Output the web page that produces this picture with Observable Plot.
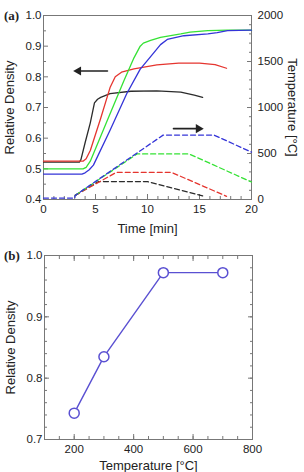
<!DOCTYPE html>
<html>
<head>
<meta charset="utf-8">
<script src="https://cdn.jsdelivr.net/npm/d3@7"></script>
<script src="https://cdn.jsdelivr.net/npm/@observablehq/plot@0.6"></script>
<style>
  html, body { margin: 0; padding: 0; background: #fff; }
  #fig { position: relative; width: 304px; height: 472px; font-family: "Liberation Sans", Arial, sans-serif; }
  #fig svg { position: absolute; left: 0; overflow: visible; }
  .tag { position: absolute; font: bold 13px "Liberation Serif", "Times New Roman", serif; color: #222; line-height: 1; }
</style>
</head>
<body>
<div id="fig">
  <div class="tag" style="left:4px;top:9px">(a)</div>
  <div class="tag" style="left:4px;top:249px">(b)</div>
</div>
<script>
// ---- (a) relative density vs time, [time min, relative density]
const densityBlack = [[0,0.522],[3.45,0.522],[3.6,0.53],[4.0,0.585],[4.5,0.65],[4.9,0.715],[5.2,0.727],[5.5,0.733],[6.4,0.745],[8.4,0.753],[10.9,0.754],[13.2,0.750],[14.5,0.740],[15.3,0.733]];
const densityRed   = [[0,0.525],[3.8,0.525],[4.1,0.533],[4.5,0.56],[5.5,0.665],[6.4,0.765],[6.9,0.80],[7.5,0.815],[8.7,0.826],[10.9,0.839],[13,0.845],[15,0.845],[16.5,0.84],[17.6,0.828]];
const densityGreen = [[0,0.50],[3.8,0.50],[4.1,0.505],[4.5,0.525],[6.1,0.655],[7.7,0.785],[8.7,0.862],[9.3,0.900],[9.6,0.910],[10.3,0.919],[11.25,0.929],[13.2,0.940],[14.1,0.946],[15.8,0.951],[17.7,0.952],[20,0.952]];
const densityBlue  = [[0,0.483],[3.7,0.483],[4.0,0.487],[4.4,0.497],[4.8,0.512],[6.4,0.626],[8.0,0.745],[9.3,0.825],[10.3,0.866],[11.25,0.905],[11.9,0.922],[13.5,0.934],[15.8,0.940],[16.7,0.944],[17.7,0.951],[20,0.952]];

// ---- (a) temperature programmes, [time min, temperature °C]
const tempBlack = [[3.05,45],[5.3,195],[10,195],[15.3,40]];
const tempRed   = [[3.05,45],[7,295],[12.3,295],[17.6,35]];
const tempGreen = [[3.05,45],[9,495],[14,495],[20,190]];
const tempBlue  = [[0,15],[3,15],[3.05,45],[11.5,700],[16.4,700],[20,515]];

// ---- (b) final relative density vs holding temperature
const holdTemp = [200, 300, 500, 700];
const finalDensity = [0.743, 0.835, 0.972, 0.972];

// ---- axis ticks
const densTicksA = [0.4, 0.5, 0.6, 0.7, 0.8, 0.9, 1.0];
const densMinorA = [0.45, 0.55, 0.65, 0.75, 0.85, 0.95];
const timeTicks = [0, 5, 10, 15, 20];
const timeMinor = d3.range(1, 20);
const tempTicks = [0, 500, 1000, 1500, 2000];
const tempMinor = d3.range(100, 2000, 100);
const densTicksB = [0.7, 0.8, 0.9, 1.0];
const densMinorB = d3.range(0.72, 1.0, 0.02);
const holdTicks = [200, 400, 600, 800];
const holdMinor = d3.range(150, 800, 50);

// ---- direction arrows pointing to each curve family's axis
const arrowDensity = {from: [6.15, 0.819], tip: [2.86, 0.819]};
const arrowTemp = {from: [12.5, 770], tip: [15.4, 770]};

const colors = {black: "#2b2b2b", red: "#e5352f", green: "#35e235", blue: "#3434d8"};
const purple = "#5a50d2";
const tickStroke = "#777";
const textFill = "#222";
const fmt1 = d3.format(".1f");
const fmtInt = d3.format("d");
const none = () => "";

const fig = document.getElementById("fig");
const W = 304, H = 236;
const baseStyle = {fontFamily: '"Liberation Sans", Arial, sans-serif', fontSize: "11.5px", background: "transparent", overflow: "visible"};
const frameA = {width: W, height: H, marginLeft: 43, marginRight: 53, marginTop: 15, marginBottom: 37, style: baseStyle};

const toRows = pts => pts.map(([x, y]) => ({x, y}));
const headOffset = 0.5; // triangle centroid sits behind the tip

function arrowMarks(a, dir) {
  const back = [a.tip[0] - dir * headOffset, a.tip[1]];
  return [
    Plot.line([a.from, back], {x: d => d[0], y: d => d[1], stroke: "#222", strokeWidth: 1.6}),
    Plot.dot([back], {x: d => d[0], y: d => d[1], symbol: "triangle", rotate: dir * 90, r: 3.4, fill: "#222", stroke: "none"})
  ];
}

// density panel (left axis)
const plotA = Plot.plot({
  ...frameA,
  x: {domain: [0, 20]},
  y: {domain: [0.4, 1.0]},
  marks: [
    Plot.frame({stroke: tickStroke}),
    Plot.axisY(densMinorA, {anchor: "left", tickSize: -3, tickFormat: none, label: null, stroke: tickStroke}),
    Plot.axisY(densTicksA, {anchor: "left", tickSize: -5, tickPadding: 7, tickFormat: fmt1, stroke: tickStroke, fill: textFill,
      label: "Relative Density", labelAnchor: "center", labelArrow: "none", labelOffset: 39}),
    Plot.axisX(timeMinor, {anchor: "bottom", tickSize: -3, tickFormat: none, label: null, stroke: tickStroke}),
    Plot.axisX(timeTicks, {anchor: "bottom", tickSize: -5, tickPadding: 10, stroke: tickStroke, fill: textFill,
      label: "Time [min]", labelAnchor: "center", labelArrow: "none", labelOffset: 33}),
    Plot.line(toRows(densityBlack), {x: "x", y: "y", stroke: colors.black, strokeWidth: 1.3}),
    Plot.line(toRows(densityRed), {x: "x", y: "y", stroke: colors.red, strokeWidth: 1.3}),
    Plot.line(toRows(densityGreen), {x: "x", y: "y", stroke: colors.green, strokeWidth: 1.3}),
    Plot.line(toRows(densityBlue), {x: "x", y: "y", stroke: colors.blue, strokeWidth: 1.3}),
    ...arrowMarks(arrowDensity, -1)
  ]
});

// temperature overlay (right axis), same frame
const dash = {strokeWidth: 1.3, strokeDasharray: "5,3"};
const plotT = Plot.plot({
  ...frameA,
  x: {domain: [0, 20], axis: null},
  y: {domain: [0, 2000]},
  marks: [
    Plot.axisY(tempMinor, {anchor: "right", tickSize: -3, tickFormat: none, label: null, stroke: tickStroke}),
    Plot.axisY(tempTicks, {anchor: "right", tickSize: -5, tickPadding: 11, tickFormat: fmtInt, stroke: tickStroke, fill: textFill, label: null}),
    // right-hand title reads top to bottom
    Plot.text(["Temperature [°C]"], {frameAnchor: "right", textAnchor: "middle", rotate: 90, dx: 41, fontSize: 13, fill: textFill}),
    Plot.line(toRows(tempBlack), {x: "x", y: "y", stroke: colors.black, ...dash}),
    Plot.line(toRows(tempRed), {x: "x", y: "y", stroke: colors.red, ...dash}),
    Plot.line(toRows(tempGreen), {x: "x", y: "y", stroke: colors.green, ...dash}),
    Plot.line(toRows(tempBlue), {x: "x", y: "y", stroke: colors.blue, ...dash}),
    ...arrowMarks(arrowTemp, 1)
  ]
});

// (b) final density panel
const rowsB = holdTemp.map((t, i) => ({t, d: finalDensity[i]}));
const plotB = Plot.plot({
  width: W, height: H, marginLeft: 44, marginRight: 52, marginTop: 19, marginBottom: 33, style: baseStyle,
  x: {domain: [100, 800]},
  y: {domain: [0.7, 1.0]},
  marks: [
    Plot.frame({stroke: tickStroke}),
    Plot.axisY(densMinorB, {anchor: "left", tickSize: -3, tickFormat: none, label: null, stroke: tickStroke}),
    Plot.axisY(densMinorB, {anchor: "right", tickSize: -3, tickFormat: none, label: null, stroke: tickStroke}),
    Plot.axisY(densTicksB, {anchor: "right", tickSize: -5, tickFormat: none, label: null, stroke: tickStroke}),
    Plot.axisY(densTicksB, {anchor: "left", tickSize: -5, tickPadding: 7, tickFormat: fmt1, stroke: tickStroke, fill: textFill,
      label: "Relative Density", labelAnchor: "center", labelArrow: "none", labelOffset: 39}),
    Plot.axisX(holdMinor, {anchor: "bottom", tickSize: -3, tickFormat: none, label: null, stroke: tickStroke}),
    Plot.axisX(holdMinor, {anchor: "top", tickSize: -3, tickFormat: none, label: null, stroke: tickStroke}),
    Plot.axisX(holdTicks, {anchor: "top", tickSize: -5, tickFormat: none, label: null, stroke: tickStroke}),
    Plot.axisX(holdTicks, {anchor: "bottom", tickSize: -5, tickPadding: 10, stroke: tickStroke, fill: textFill,
      label: "Temperature [°C]", labelAnchor: "center", labelArrow: "none", labelOffset: 30}),
    Plot.line(rowsB, {x: "t", y: "d", stroke: purple, strokeWidth: 1.4}),
    Plot.dot(rowsB, {x: "t", y: "d", r: 5, stroke: purple, strokeWidth: 1.5, fill: "white"})
  ]
});

for (const [svg, top] of [[plotA, 0], [plotT, 0], [plotB, 236]]) {
  svg.style.top = top + "px";
  svg.querySelectorAll('[aria-label$="axis label"] text, [aria-label$="axis label"]').forEach(t => t.setAttribute("font-size", "13"));
  fig.appendChild(svg);
}
</script>
</body>
</html>
